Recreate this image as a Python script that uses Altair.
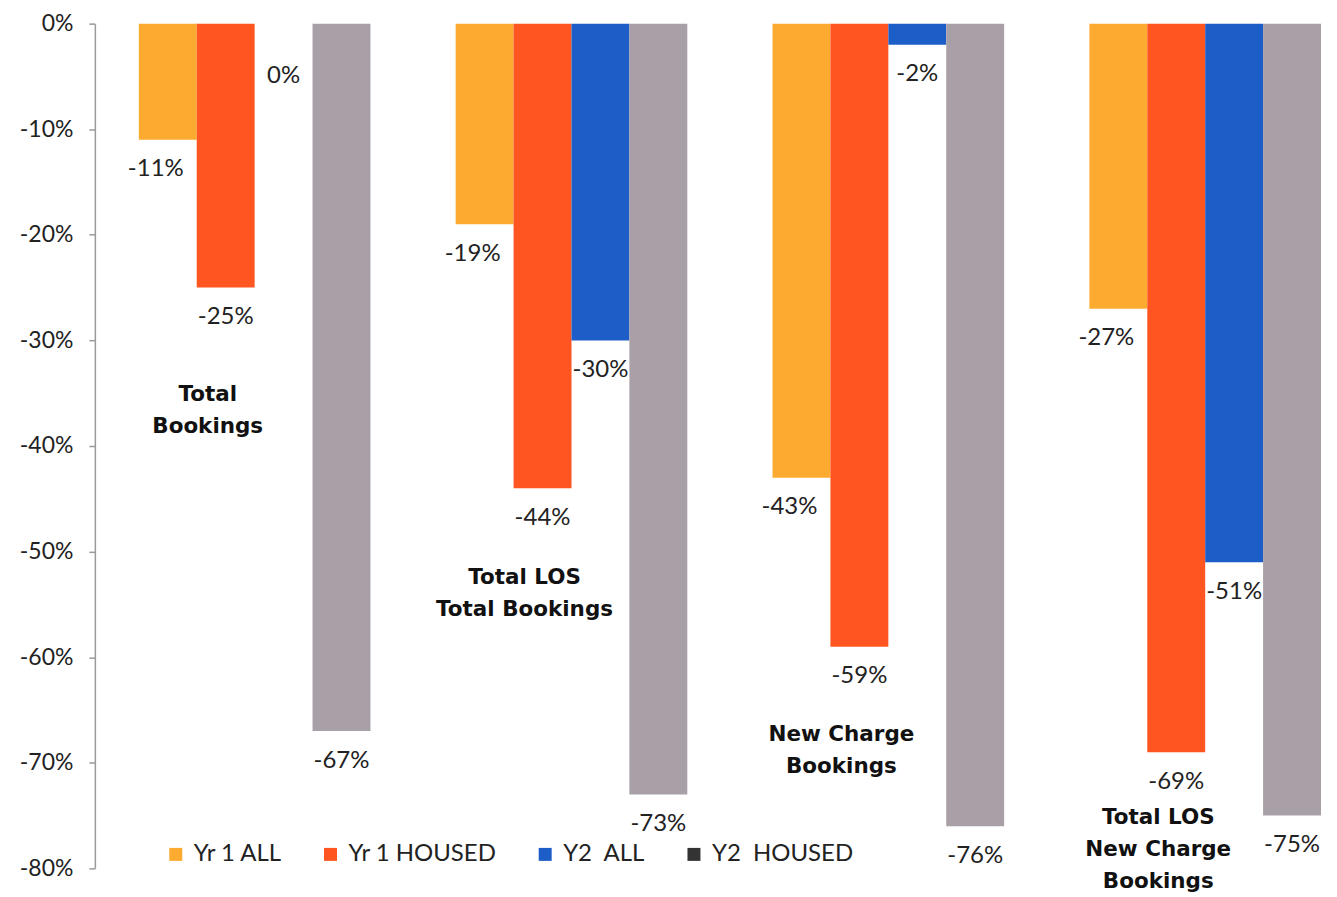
import altair as alt
import pandas as pd

# ---- data ----
groups = ["Total Bookings", "Total LOS Total Bookings", "New Charge Bookings", "Total LOS New Charge Bookings"]
group_lines = [["Total", "Bookings"], ["Total LOS", "Total Bookings"], ["New Charge", "Bookings"], ["Total LOS", "New Charge", "Bookings"]]
series = ["Yr 1 ALL", "Yr 1 HOUSED", "Y2\u00a0 ALL", "Y2\u00a0 HOUSED"]
yr1_all = [-0.11, -0.19, -0.43, -0.27]
yr1_housed = [-0.25, -0.44, -0.59, -0.69]
y2_all = [0.00, -0.30, -0.02, -0.51]
y2_housed = [-0.67, -0.73, -0.76, -0.75]
tick_values = [0, -0.1, -0.2, -0.3, -0.4, -0.5, -0.6, -0.7, -0.8]

# annotation anchors (value units) for the group captions
caption_top = [-0.341, -0.515, -0.663, -0.742]

bar_colors = ["#FCAA30", "#FE5521", "#1D5DC7", "#A99FA6"]
legend_colors = ["#FCAA30", "#FE5521", "#1D5DC7", "#333333"]

rows = []
for s, vals in zip(series, [yr1_all, yr1_housed, y2_all, y2_housed]):
    for g, v in zip(groups, vals):
        rows.append({"group": g, "series": s, "value": v})
df = pd.DataFrame(rows)

cap_df = pd.DataFrame({"group": groups, "lines": group_lines, "top": caption_top})

x_scale = alt.Scale(paddingInner=0.269, paddingOuter=0.082, align=0.846)
x_enc = alt.X("group:N", sort=groups, axis=None, scale=x_scale)
xo_enc = alt.XOffset("series:N", sort=series, scale=alt.Scale(paddingInner=0, paddingOuter=0))
y_scale = alt.Scale(domain=[-0.8, 0], nice=False, zero=False)

bars = alt.Chart(df).mark_bar().encode(
    x=x_enc,
    xOffset=xo_enc,
    y=alt.Y("value:Q", scale=y_scale,
            axis=alt.Axis(values=tick_values, labelExpr="round(datum.value*100) + '%'",
                          grid=False, title=None, labelFont="Lato", labelFontSize=23,
                          labelColor="#222222", domainColor="#9a9a9a", tickColor="#9a9a9a",
                          tickSize=6, labelPadding=16, domainWidth=1.5, tickWidth=1.5)),
    color=alt.Color("series:N", scale=alt.Scale(domain=series, range=bar_colors), legend=None),
)

legend_layer = alt.Chart(df).mark_bar().encode(
    y=alt.datum(0),
    y2=alt.datum(0),
    color=alt.Color("series:N", sort=series,
                    scale=alt.Scale(domain=series, range=legend_colors),
                    legend=alt.Legend(orient="none", legendX=69, legendY=820, direction="horizontal",
                                      columns=4, title=None,
                                      symbolType="square", symbolSize=169,
                                      symbolStrokeWidth=0, labelFont="Lato", labelFontSize=24,
                                      labelColor="#222222", columnPadding=36, labelOffset=6,
                                      padding=0, labelLimit=400)),
)

base_text = alt.Chart(df).transform_calculate(
    ly="datum.value == 0 ? -0.05 : datum.value - 0.028",
    lbl="round(datum.value*100) + '%'",
)

labels_other = base_text.transform_filter(alt.datum.series != series[0]).mark_text(
    font="Lato", fontSize=24, color="#222222", baseline="middle", align="center"
).encode(
    x=x_enc, xOffset=xo_enc,
    y=alt.Y("ly:Q", scale=y_scale),
    text="lbl:N",
)
labels_first = base_text.transform_filter(alt.datum.series == series[0]).mark_text(
    font="Lato", fontSize=24, color="#222222", baseline="middle", align="center", dx=-12
).encode(
    x=x_enc, xOffset=xo_enc,
    y=alt.Y("ly:Q", scale=y_scale),
    text="lbl:N",
)

captions = alt.Chart(cap_df).mark_text(
    font="DejaVu Sans", fontWeight="bold", fontSize=21.5, lineHeight=32,
    align="center", baseline="top", color="#111111", dx=-47
).encode(
    x=alt.X("group:N", sort=groups, axis=None, scale=x_scale),
    y=alt.Y("top:Q", scale=y_scale),
    text="lines",
)

chart = alt.layer(bars, labels_other, labels_first, captions, legend_layer).resolve_scale(
    color="independent"
).properties(
    width=1236, height=846,
    autosize=alt.AutoSizeParams(type="none"),
    padding={"left": 87, "top": 15, "right": 0, "bottom": 27},
    background="white",
).configure_view(stroke=None)

chart.save("out.html", embed_options={"renderer": "svg", "actions": False})
